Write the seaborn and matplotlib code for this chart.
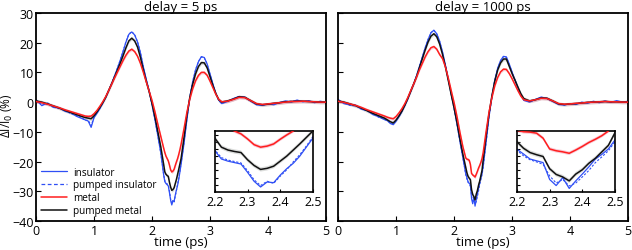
import numpy as np
import pandas as pd
import matplotlib
matplotlib.use("Agg")
import matplotlib.pyplot as plt
import seaborn as sns
from matplotlib.lines import Line2D

# ---------------- data ----------------
time_ps = [0, 0.1, 0.2, 0.3, 0.4, 0.5, 0.6, 0.7, 0.8, 0.85, 0.9, 0.95, 1.0,
           1.05, 1.1, 1.15, 1.2, 1.25, 1.3, 1.35, 1.4, 1.45, 1.5, 1.55, 1.6,
           1.65, 1.7, 1.75, 1.8, 1.85, 1.9, 1.95, 2.0, 2.05, 2.1, 2.15, 2.2,
           2.22, 2.24, 2.26, 2.28, 2.30, 2.32, 2.34, 2.36, 2.38, 2.40, 2.42,
           2.44, 2.46, 2.48, 2.5, 2.55, 2.6, 2.65, 2.7, 2.75, 2.8, 2.85, 2.9,
           2.95, 3.0, 3.05, 3.1, 3.15, 3.2, 3.3, 3.4, 3.5, 3.6, 3.7, 3.8, 3.9,
           4.0, 4.1, 4.2, 4.3, 4.4, 4.5, 4.6, 4.7, 4.8, 4.9, 5.0]

# delay = 5 ps
ins_5 = [0.8, -1.2, -0.3, -1.8, -1.9, -3.1, -3.6, -4.8, -5.6, -6.0, -6.4, -8.5, -5.2,
         -3.8, -2.2, -0.4, 1.5, 3.8, 6.1, 8.6, 11.2, 14.0, 17.0, 20.2, 22.8,
         23.6, 22.6, 20.2, 16.5, 11.8, 7.6, 3.8, -0.9, -5.9, -11.3, -17.0, -24.5,
         -26.8, -27.4, -27.8, -28.2, -30.5, -33.0, -34.6, -33.2, -33.4, -31.3, -29.5,
         -28.0, -26.0, -23.5, -21.0, -14.0, -6.0, 1.5, 6.8, 10.8, 13.6, 15.3, 15.0,
         12.8, 9.4, 6.0, 2.9, 0.6, -0.5, 0.2, 1.2, 1.9, 1.7, 0.3, -0.9, -1.1,
         -0.6, -0.9, -0.1, 0.4, 0.0, 0.7, 0.1, 0.5, -0.2, 0.3, -0.1]
pins_5 = [0.5, -0.8, -0.6, -1.5, -2.2, -2.8, -3.9, -4.5, -5.4, -6.2, -6.1, -7.9, -5.0,
          -3.6, -2.1, -0.3, 1.6, 3.9, 6.2, 8.7, 11.3, 14.1, 17.1, 20.3, 22.9,
          23.7, 22.7, 20.3, 16.6, 11.9, 7.6, 3.7, -1.0, -6.0, -11.4, -17.1, -24.3,
          -26.4, -27.1, -27.5, -27.9, -30.0, -32.6, -34.2, -33.0, -33.6, -31.6, -29.8,
          -27.6, -25.6, -23.2, -20.6, -13.8, -5.9, 1.6, 6.9, 10.9, 13.7, 15.2, 14.9,
          12.7, 9.3, 5.9, 2.8, 0.5, -0.4, 0.3, 1.1, 1.8, 1.6, 0.4, -0.8, -1.0,
          -0.7, -0.6, -0.3, 0.2, 0.3, 0.4, 0.2, 0.3, 0.0, 0.1, 0.0]
met_5 = [0.2, -0.2, -0.7, -1.3, -1.9, -2.6, -3.2, -3.8, -4.4, -4.7, -4.8, -4.7, -3.9,
         -2.8, -1.4, 0.1, 1.8, 3.8, 5.9, 8.0, 10.0, 12.0, 14.0, 15.8, 17.2,
         17.8, 17.0, 15.4, 13.0, 10.0, 6.8, 3.7, 0.5, -3.3, -7.5, -11.5, -15.5,
         -17.0, -18.2, -19.0, -19.8, -21.2, -22.8, -23.5, -23.2, -22.6, -21.3, -20.1,
         -19.0, -17.6, -16.0, -14.2, -9.0, -3.5, 1.0, 4.5, 7.2, 9.0, 10.0, 10.0,
         9.0, 7.0, 4.8, 2.6, 0.9, 0.1, 0.3, 0.9, 1.6, 1.5, 0.5, -0.5, -0.8,
         -0.6, -0.4, -0.2, 0.0, 0.2, 0.2, 0.3, 0.2, 0.1, 0.0, 0.0]
pmet_5 = [0.4, 0.0, -0.6, -1.3, -2.0, -2.8, -3.5, -4.2, -4.9, -5.2, -5.4, -5.6, -4.6,
          -3.3, -1.8, -0.2, 1.6, 3.8, 6.0, 8.3, 10.6, 13.0, 15.6, 18.3, 20.6,
          21.5, 20.6, 18.5, 15.0, 10.8, 7.0, 3.5, -0.5, -5.0, -10.0, -15.0, -21.0,
          -23.5, -24.3, -24.7, -25.0, -27.0, -28.6, -29.7, -29.4, -28.8, -27.4, -26.0,
          -24.3, -22.6, -20.8, -19.0, -12.0, -4.5, 1.5, 6.0, 9.5, 12.0, 13.3, 13.2,
          11.5, 8.5, 5.5, 2.8, 0.8, 0.0, 0.4, 1.0, 1.8, 1.6, 0.5, -0.6, -0.9,
          -0.7, -0.4, -0.2, 0.1, 0.2, 0.3, 0.3, 0.2, 0.1, 0.0, 0.0]

# delay = 1000 ps
ins_1000 = [0.9, -0.5, -0.9, -1.0, -2.4, -2.8, -4.2, -4.9, -5.9, -6.2, -7.2, -7.6, -6.4,
            -4.9, -3.2, -1.2, 1.0, 3.5, 6.0, 8.7, 11.9, 15.0, 18.2, 21.0, 23.3,
            24.2, 23.0, 20.5, 16.8, 12.4, 7.6, 2.7, -2.2, -7.5, -13.2, -18.6, -24.1,
            -25.4, -26.8, -27.3, -27.8, -32.5, -34.2, -32.0, -35.0, -32.9, -31.0, -29.0,
            -26.8, -25.5, -24.0, -21.5, -13.5, -5.0, 1.8, 7.4, 11.4, 14.0, 15.4, 15.2,
            12.8, 10.0, 7.4, 4.8, 2.5, 0.6, 0.0, 0.9, 1.7, 1.2, 0.2, -0.8, -1.0,
            -0.5, -0.8, 0.0, -0.4, 0.3, -0.2, 0.4, -0.1, 0.5, 0.0, 0.3]
pins_1000 = [0.6, -0.2, -1.1, -1.3, -2.1, -3.0, -3.9, -5.1, -5.7, -6.4, -6.9, -7.4, -6.2,
             -4.8, -3.1, -1.1, 1.1, 3.6, 6.1, 8.8, 12.0, 15.1, 18.3, 21.1, 23.4,
             24.1, 22.9, 20.4, 16.7, 12.3, 7.5, 2.6, -2.3, -7.6, -13.3, -18.7, -24.4,
             -25.9, -27.0, -27.6, -28.3, -31.5, -33.5, -32.5, -34.3, -33.5, -31.8, -30.0,
             -27.8, -26.2, -24.5, -22.0, -13.7, -5.1, 1.7, 7.3, 11.3, 13.9, 15.3, 15.1,
             12.7, 9.9, 7.3, 4.7, 2.4, 0.7, 0.1, 0.8, 1.6, 1.3, 0.3, -0.7, -0.9,
             -0.6, -0.5, -0.2, -0.1, 0.1, 0.1, 0.2, 0.1, 0.2, 0.1, 0.1]
met_1000 = [0.3, -0.1, -0.6, -1.1, -1.8, -2.6, -3.3, -4.0, -4.7, -5.1, -5.4, -5.6, -4.8,
            -3.6, -2.2, -0.5, 1.5, 3.8, 6.0, 8.3, 10.8, 13.0, 15.2, 17.0, 18.3,
            18.7, 17.8, 16.0, 14.6, 11.8, 8.0, 3.8, -0.3, -5.0, -10.2, -15.0, -18.8,
            -19.2, -19.3, -19.6, -21.0, -24.0, -24.5, -24.8, -25.2, -24.3, -23.3, -22.2,
            -21.3, -20.3, -19.0, -17.0, -10.0, -3.5, 1.5, 5.5, 8.3, 10.2, 11.1, 11.0,
            9.6, 7.8, 5.8, 3.8, 2.0, 0.8, 0.4, 0.8, 1.3, 1.2, 0.4, -0.5, -0.7,
            -0.6, -0.4, -0.3, -0.1, 0.0, 0.1, 0.2, 0.1, 0.1, 0.0, 0.0]
pmet_1000 = [0.4, 0.0, -0.6, -1.2, -2.0, -2.9, -3.8, -4.6, -5.4, -6.0, -6.6, -7.0, -6.0,
             -4.6, -3.0, -1.0, 1.2, 3.6, 6.0, 8.5, 11.5, 14.5, 17.5, 20.2, 22.2,
             23.0, 22.0, 19.5, 16.0, 11.8, 7.2, 2.5, -2.0, -7.0, -12.4, -17.5, -22.0,
             -23.8, -25.0, -25.6, -26.1, -29.5, -31.1, -31.8, -32.9, -31.0, -29.8, -28.0,
             -26.6, -24.8, -23.0, -19.5, -11.5, -4.0, 2.0, 7.0, 10.8, 13.2, 14.5, 14.5,
             12.0, 9.5, 7.3, 5.0, 2.8, 1.2, 0.4, 0.8, 1.4, 1.3, 0.4, -0.6, -0.8,
             -0.6, -0.5, -0.3, -0.1, 0.0, 0.1, 0.2, 0.1, 0.1, 0.0, 0.0]

met_err = 0.5
pmet_err = 0.6

titles = ["delay = 5 ps", "delay = 1000 ps"]
legend_labels = ["insulator", "pumped insulator", "metal", "pumped metal"]
main_xticks = [0, 1, 2, 3, 4, 5]
main_yticks = [-40, -30, -20, -10, 0, 10, 20, 30]
inset_xticks = [2.2, 2.3, 2.4, 2.5]

panels = [(ins_5, pins_5, met_5, pmet_5), (ins_1000, pins_1000, met_1000, pmet_1000)]

# ---------------- style ----------------
sns.set_theme(style="white")
plt.rcParams['font.family'] = ['Open Sans', 'DejaVu Sans']
plt.rcParams.update({
    "xtick.direction": "in", "ytick.direction": "in",
    "xtick.bottom": True, "ytick.left": True,
    "xtick.major.size": 3.5, "ytick.major.size": 3.5,
    "xtick.major.width": 0.8, "ytick.major.width": 0.8,
    "xtick.major.pad": 2, "ytick.major.pad": 1.5,
    "xtick.labelsize": 9, "ytick.labelsize": 9,
    "xtick.color": "black", "ytick.color": "black",
    "axes.edgecolor": "black", "axes.linewidth": 1.3,
    "text.color": "black", "axes.labelcolor": "black",
})

BLUE = "#2f4ff5"
RED = "#ff1e1e"
BLACK = "#111111"
PINK = "#f08aa6"
GRAY = "#9a9e9a"

fig = plt.figure(figsize=(6.32, 2.51), dpi=100)
main_pos = [[0.057, 0.1155, 0.459, 0.829], [0.535, 0.1155, 0.459, 0.829]]
inset_pos = [[0.340, 0.231, 0.155, 0.243], [0.818, 0.231, 0.155, 0.243]]

t = np.array(time_ps)


def draw(ax, ins, pins, met, pmet, lw_scale=1.0):
    met = np.array(met)
    pmet = np.array(pmet)
    ax.fill_between(t, pmet - pmet_err, pmet + pmet_err, color=GRAY, alpha=0.35, lw=0, zorder=1)
    ax.fill_between(t, met - met_err, met + met_err, color=PINK, alpha=0.45, lw=0, zorder=1)
    sns.lineplot(x=t, y=ins, ax=ax, color=BLUE, lw=0.9 * lw_scale, zorder=2)
    sns.lineplot(x=t, y=pins, ax=ax, color=BLUE, lw=0.8 * lw_scale, linestyle=(0, (2, 1.5)),
                 zorder=2)
    sns.lineplot(x=t, y=pmet, ax=ax, color=BLACK, lw=1.1 * lw_scale, zorder=3)
    sns.lineplot(x=t, y=met, ax=ax, color=RED, lw=1.1 * lw_scale, zorder=4)


for i, (ins, pins, met, pmet) in enumerate(panels):
    ax = fig.add_axes(main_pos[i])
    draw(ax, ins, pins, met, pmet)
    ax.set_xlim(0, 5)
    ax.set_ylim(-40, 30)
    ax.set_xticks(main_xticks)
    ax.set_yticks(main_yticks)
    ax.set_title(titles[i], fontsize=9.5, pad=1.5)
    ax.set_xlabel("time (ps)", fontsize=9.5, labelpad=-1)
    ax.set_ylabel("")
    if i == 0:
        handles = [Line2D([], [], color=BLUE, lw=0.9),
                   Line2D([], [], color=BLUE, lw=0.9, linestyle=(0, (3, 2))),
                   Line2D([], [], color=RED, lw=1.1),
                   Line2D([], [], color=BLACK, lw=1.1)]
        ax.legend(handles, legend_labels, loc="lower left", frameon=False,
                  fontsize=7.2, handlelength=2.6, handletextpad=0.6,
                  labelspacing=0.18, borderaxespad=0.1, bbox_to_anchor=(0.0, 0.0))
    else:
        ax.set_yticklabels([])
    for s in ax.spines.values():
        s.set_visible(True)

    axi = fig.add_axes(inset_pos[i])
    draw(axi, ins, pins, met, pmet, lw_scale=1.0)
    axi.set_xlim(2.2, 2.5)
    axi.set_ylim(-36, -19)
    axi.set_xticks(inset_xticks)
    axi.set_yticks(np.arange(-34, -19, 2))
    axi.set_yticklabels([])
    axi.tick_params(axis="y", length=2)
    axi.tick_params(axis="x", length=2.5, labelsize=9, pad=2)
    axi.set_xlabel("")
    axi.set_ylabel("")
    axi.set_facecolor("white")
    for s in axi.spines.values():
        s.set_visible(True)
        s.set_linewidth(1.2)

fig.text(0.0, 0.54, "ΔI/I$_0$ (%)", rotation=90, ha="left", va="center", fontsize=8.5)

fig.savefig("out.png", dpi=100)
